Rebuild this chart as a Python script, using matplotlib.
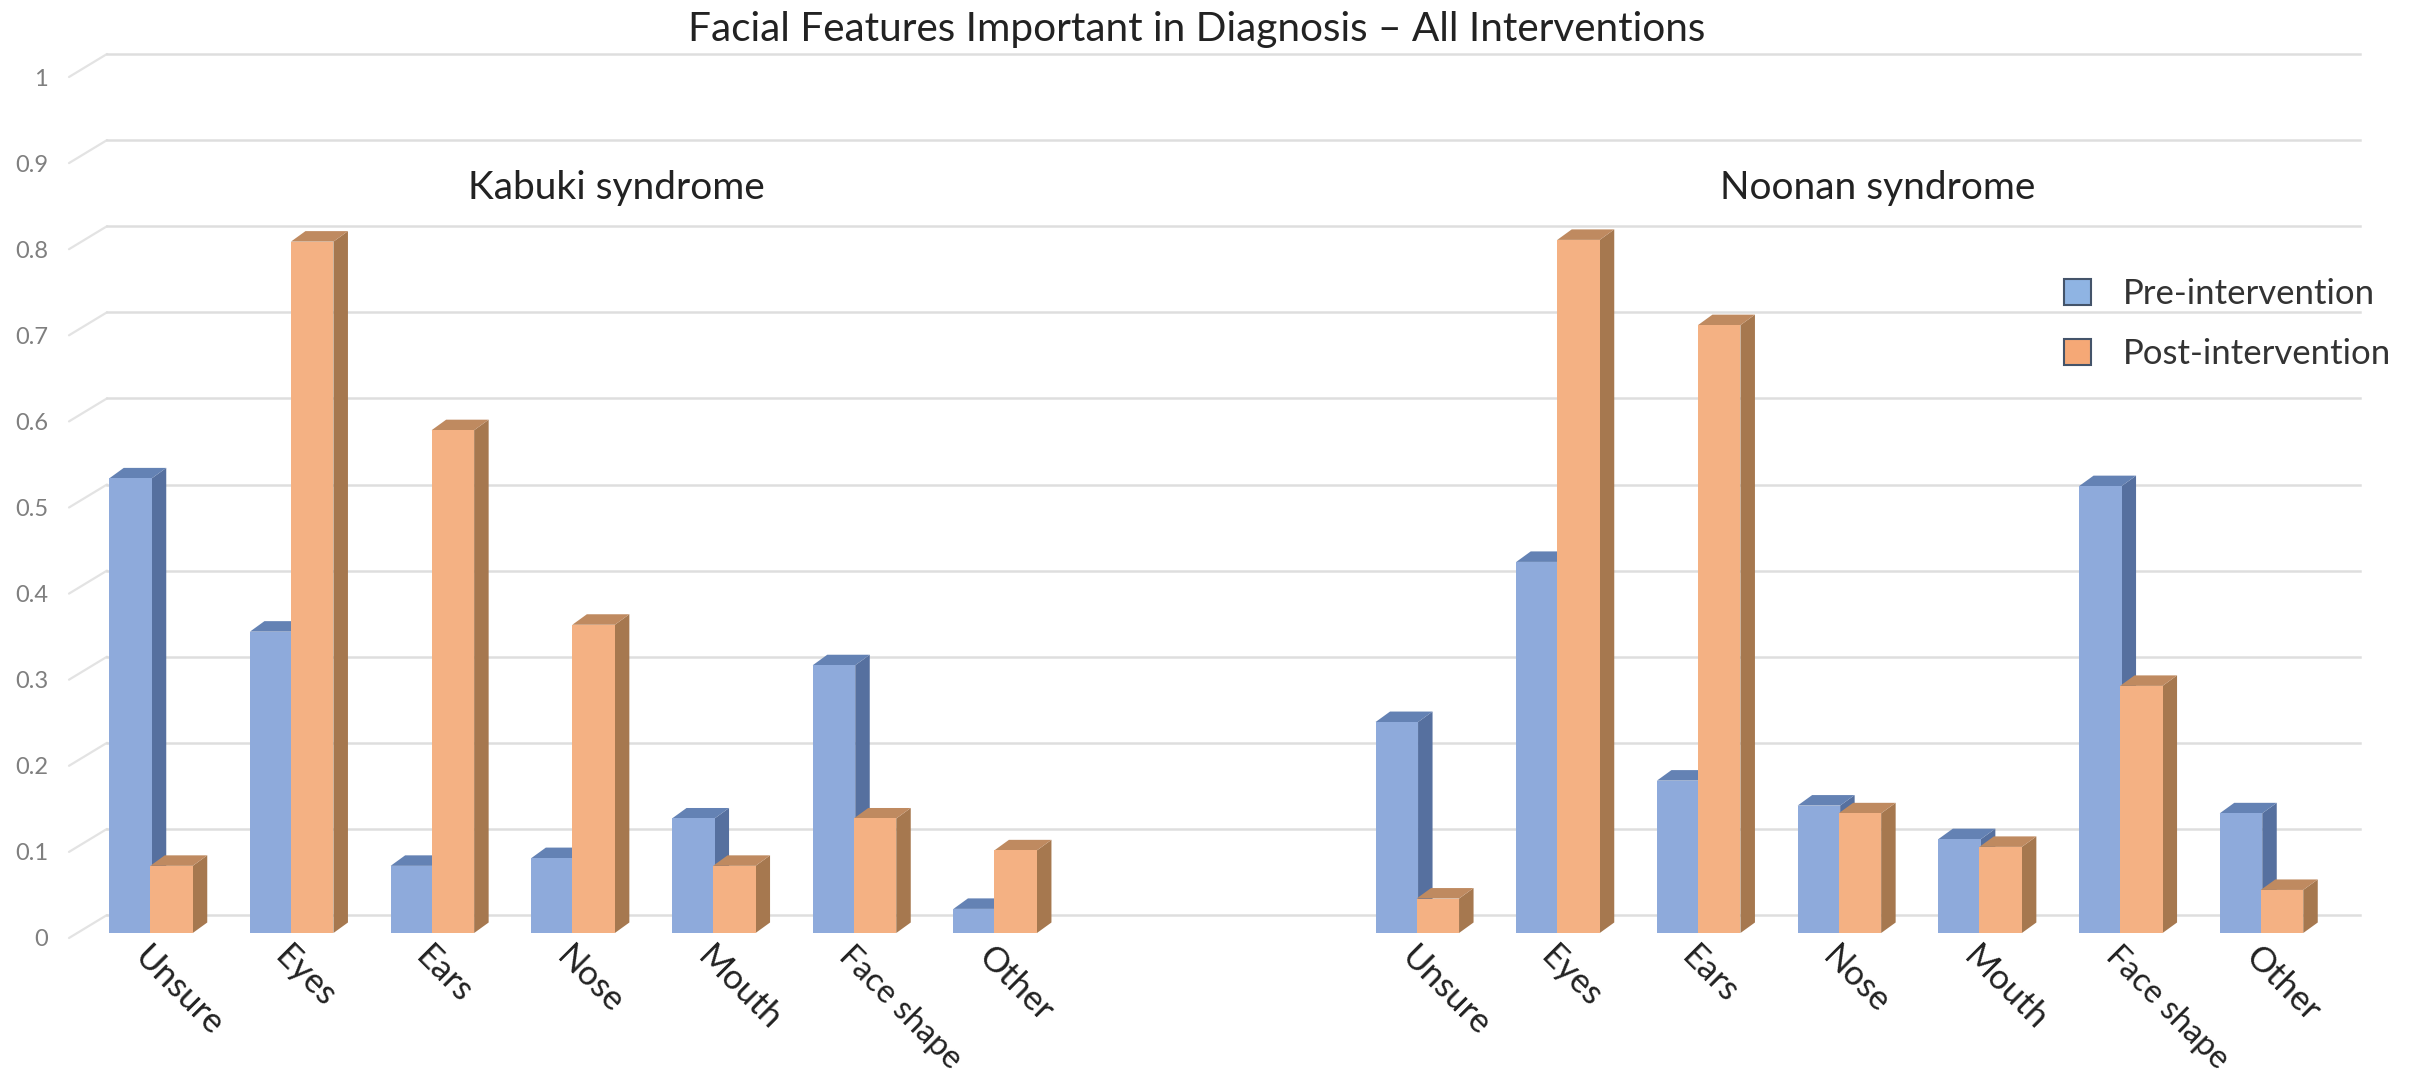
import matplotlib.pyplot as plt
from matplotlib.patches import Patch, Polygon

categories = ['Unsure', 'Eyes', 'Ears', 'Nose', 'Mouth', 'Face shape', 'Other']
kabuki_pre = [0.528, 0.35, 0.078, 0.087, 0.133, 0.311, 0.028]
kabuki_post = [0.078, 0.803, 0.584, 0.358, 0.078, 0.133, 0.096]
noonan_pre = [0.245, 0.431, 0.177, 0.148, 0.109, 0.519, 0.139]
noonan_post = [0.04, 0.805, 0.706, 0.139, 0.10, 0.287, 0.05]
y_ticks = [0, 0.1, 0.2, 0.3, 0.4, 0.5, 0.6, 0.7, 0.8, 0.9, 1]
y_labels = ['0', '0.1', '0.2', '0.3', '0.4', '0.5', '0.6', '0.7', '0.8', '0.9', '1']

W, H = 2415, 1080
plt.rcParams['font.family'] = ['Lato', 'DejaVu Sans']

fig = plt.figure(figsize=(W / 100, H / 100), dpi=100, facecolor='white')
# axes runs from the front corner of the floor to the right end of the grid
left, right, y0, y1 = 69, 2360, 938, 77
ax = fig.add_axes([left / W, 1 - y0 / H, (right - left) / W, (y0 - y1) / H])
slot = 140.7
ax.set_xlim((left - 151) / slot, (right - 151) / slot)
ax.set_ylim(0, 1)

px_x = 1 / slot
px_y = 1 / (y0 - y1)
depth_x, depth_y = 14.5 * px_x, 10.5 * px_y
base = 5 * px_y
bar_w = 42.5 * px_x
shift = 20.5 * px_x

# walls: diagonal on the side, then the long line along the back
back_x = 38 * px_x
back_y = 23 * px_y
x_start = ax.get_xlim()[0]
for v in y_ticks:
    ax.plot([x_start, x_start + back_x], [v, v + back_y], color='#e3e3e3', lw=1.6,
            clip_on=False, zorder=1, solid_capstyle='round')
    ax.plot([x_start + back_x, ax.get_xlim()[1]], [v + back_y, v + back_y], color='#dedede',
            lw=1.8, clip_on=False, zorder=1)


def bar3d(x, value, front, side, top, z):
    x0, x1 = x - bar_w / 2, x + bar_w / 2
    h = base + value
    ax.bar(x, value, bar_w, bottom=base, color=front, linewidth=0, zorder=z + 0.2)
    ax.add_patch(Polygon([(x1, base), (x1 + depth_x, base + depth_y), (x1 + depth_x, h + depth_y), (x1, h)],
                         facecolor=side, edgecolor='none', zorder=z, clip_on=False))
    ax.add_patch(Polygon([(x0, h), (x0 + depth_x, h + depth_y), (x1 + depth_x, h + depth_y), (x1, h)],
                         facecolor=top, edgecolor='none', zorder=z + 0.1, clip_on=False))


pre_colors = ('#8eaadb', '#56709f', '#6482b4')
post_colors = ('#f4b183', '#a6784f', '#bf8a60')
slots = list(range(7)) + list(range(9, 16))
pre_values = kabuki_pre + noonan_pre
post_values = kabuki_post + noonan_post
for i, s in enumerate(slots):
    bar3d(s - shift, pre_values[i], *pre_colors, 3 + i)
    bar3d(s + shift, post_values[i], *post_colors, 3.5 + i)

for side_name in ax.spines:
    ax.spines[side_name].set_visible(False)
ax.set_yticks(y_ticks)
ax.set_yticklabels(y_labels, color='#7f7f7f', fontsize=17)
ax.set_xticks(slots)
ax.set_xticklabels(categories + categories, rotation=-45, ha='left', va='top',
                   rotation_mode='anchor', fontsize=25, color='#222222')
ax.tick_params(axis='y', length=0, pad=15)
ax.tick_params(axis='x', length=0, pad=2)
# the reference squeezes this label a bit, so it gets a smaller size
for lab in ax.get_xticklabels():
    if lab.get_text() == 'Face shape':
        lab.set_fontsize(23.5)

fig.text(1197 / W, 1 - 30 / H, 'Facial Features Important in Diagnosis – All Interventions',
         ha='center', va='center', fontsize=29.2, color='#222222')
fig.text(616 / W, 1 - 188 / H, 'Kabuki syndrome', ha='center', va='center', fontsize=28, color='#222222')
fig.text(1878 / W, 1 - 188 / H, 'Noonan syndrome', ha='center', va='center', fontsize=28, color='#222222')

handles = [Patch(facecolor='#8fb4e3', edgecolor='#44546a', lw=1.5, label='Pre-intervention'),
           Patch(facecolor='#f5a876', edgecolor='#44546a', lw=1.5, label='Post-intervention')]
ax.legend(handles=handles, loc='upper left', bbox_to_anchor=(2064 / W, 1 - 278 / H),
          bbox_transform=fig.transFigure, frameon=False, fontsize=25, handlelength=0.78, handleheight=0.78,
          handletextpad=0.92, labelspacing=0.8, labelcolor='#333333', borderpad=0, borderaxespad=0)

plt.savefig('out.png', dpi=100)
plt.close()
